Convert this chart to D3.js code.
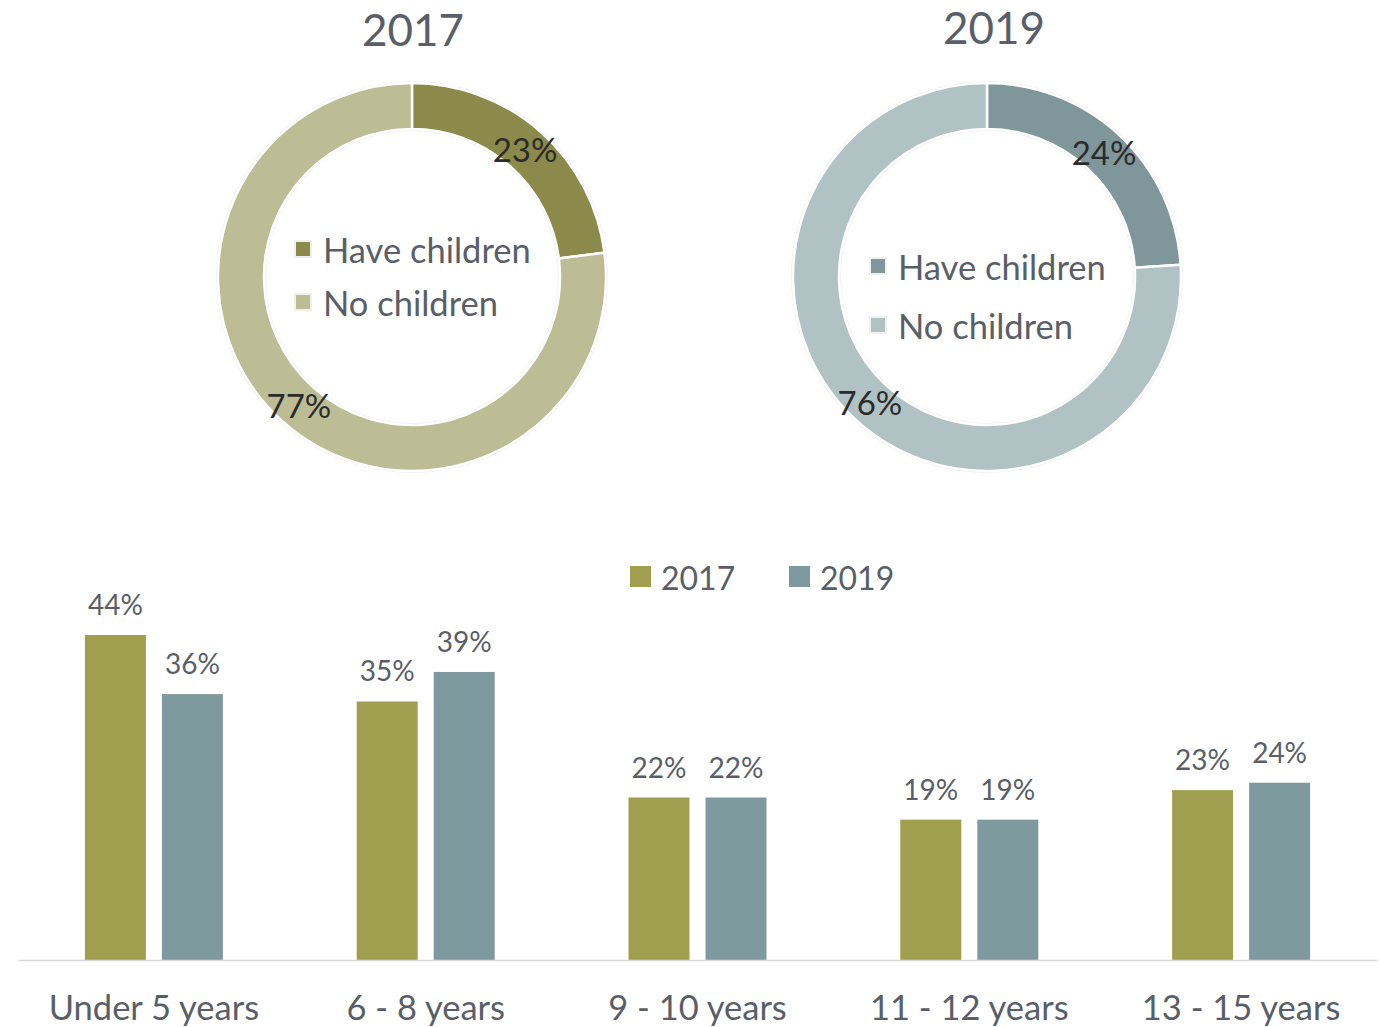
<!DOCTYPE html>
<html><head><meta charset="utf-8">
<script src="https://cdn.jsdelivr.net/npm/d3@7"></script>
<style>body{margin:0;background:#fff}svg{display:block}text{font-family:Lato,"Open Sans",sans-serif}</style>
</head><body><svg id="c" width="1379" height="1027"></svg>
<script>
const donutYears = ["2017", "2019"];
const donutCategories = ["Have children", "No children"];
const donut2017 = [23, 77];
const donut2019 = [24, 76];
const ageGroups = ["Under 5 years", "6 - 8 years", "9 - 10 years", "11 - 12 years", "13 - 15 years"];
const bars2017 = [44, 35, 22, 19, 23];
const bars2019 = [36, 39, 22, 19, 24];
const barSeries = ["2017", "2019"];

const textCol = "#595f68";
const svg = d3.select("#c");

// Donuts
const donutCfg = [
  {cx: 412, cy: 277, vals: donut2017, colors: ["#8c8a4a", "#bcbc95"], titleY: 46, titleX: 413, legX: 295, legY: [249, 302]},
  {cx: 987, cy: 277, vals: donut2019, colors: ["#7f979b", "#b1c2c4"], titleY: 44, titleX: 994, legX: 870, legY: [266, 325]}
];
const pie = d3.pie().sort(null);
const arc = d3.arc().innerRadius(148).outerRadius(194);
donutCfg.forEach((cfg, i) => {
  const g = svg.append("g").attr("transform", `translate(${cfg.cx},${cfg.cy})`);
  g.append("circle").attr("r", 195).attr("fill", "none").attr("stroke", "#f0f0f0").attr("stroke-width", 2);
  g.append("circle").attr("r", 147).attr("fill", "none").attr("stroke", "#f0f0f0").attr("stroke-width", 2);
  const arcs = pie(cfg.vals);
  g.selectAll("path").data(arcs).join("path")
    .attr("d", arc).attr("fill", (d, j) => cfg.colors[j])
    .attr("stroke", "#fff").attr("stroke-width", 2.5);
  g.selectAll("text.lbl").data(arcs).join("text").attr("class", "lbl")
    .attr("x", d => arc.centroid(d)[0]).attr("y", d => arc.centroid(d)[1])
    .attr("text-anchor", "middle").attr("dominant-baseline", "central")
    .attr("font-size", 33).attr("fill", "#2b2b2b").text(d => d.data + "%");
  svg.append("text").attr("x", cfg.titleX).attr("y", cfg.titleY)
    .attr("text-anchor", "middle").attr("font-size", 44).attr("fill", textCol).text(donutYears[i]);
  donutCategories.forEach((c, j) => {
    svg.append("rect").attr("x", cfg.legX).attr("y", cfg.legY[j] - 8).attr("width", 16).attr("height", 16)
      .attr("fill", cfg.colors[j]).attr("stroke", "#f0f0f0").attr("stroke-width", 2);
    svg.append("text").attr("x", cfg.legX + 28).attr("y", cfg.legY[j]).attr("dominant-baseline", "central")
      .attr("font-size", 34.5).attr("fill", textCol).text(c);
  });
});

// Bars
const x0 = d3.scaleBand().domain(ageGroups).range([18, 1377]);
const x1 = d3.scaleBand().domain(barSeries).range([x0.bandwidth() / 2 - 69, x0.bandwidth() / 2 + 69]).paddingInner(0.208);
const y = d3.scaleLinear().domain([0, 44]).range([960, 635]);
const barColors = {"2017": "#a09f50", "2019": "#7f9a9e"};
const data = ageGroups.map((a, i) => ({a, vals: [{s: "2017", v: bars2017[i]}, {s: "2019", v: bars2019[i]}]}));
const gg = svg.selectAll("g.grp").data(data).join("g").attr("class", "grp")
  .attr("transform", d => `translate(${x0(d.a)},0)`);
gg.selectAll("rect").data(d => d.vals).join("rect")
  .attr("x", d => x1(d.s)).attr("width", x1.bandwidth())
  .attr("y", d => y(d.v)).attr("height", d => y(0) - y(d.v))
  .attr("fill", d => barColors[d.s]);
gg.selectAll("text").data(d => d.vals).join("text")
  .attr("x", d => x1(d.s) + x1.bandwidth() / 2).attr("y", d => y(d.v) - 20)
  .attr("text-anchor", "middle").attr("font-size", 28).attr("fill", textCol).text(d => d.v + "%");

const xAxis = svg.append("g").attr("transform", "translate(0,960)")
  .call(d3.axisBottom(x0).tickSize(0).tickPadding(36));
xAxis.select(".domain").attr("stroke", "#d9d9d9").attr("stroke-width", 1.5);
xAxis.selectAll("text").attr("font-size", 34.5).attr("fill", textCol).style("font-family", "Lato,'Open Sans',sans-serif");

// Bar legend
const legPos = [630, 789];
barSeries.forEach((s, i) => {
  svg.append("rect").attr("x", legPos[i]).attr("y", 566).attr("width", 21).attr("height", 21).attr("fill", barColors[s]);
  svg.append("text").attr("x", legPos[i] + 31).attr("y", 577).attr("dominant-baseline", "central")
    .attr("font-size", 32).attr("fill", textCol).text(s);
});
</script></body></html>
